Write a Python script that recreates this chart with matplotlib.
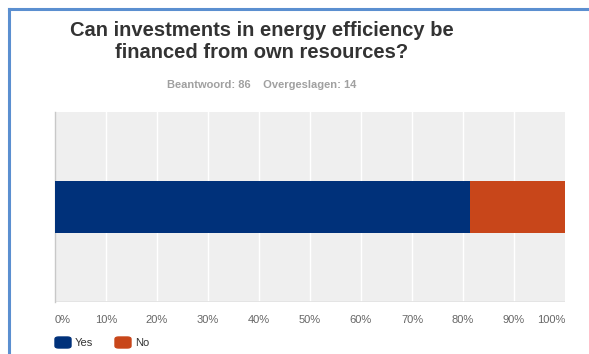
import matplotlib.pyplot as plt
from matplotlib.patches import FancyBboxPatch

categories = ["Yes", "No"]
shares = [81.4, 18.6]
colors = ["#00317a", "#c8461a"]
tick_values = [0, 10, 20, 30, 40, 50, 60, 70, 80, 90, 100]
tick_labels = [f"{t}%" for t in tick_values]

W, H = 589, 354
fig = plt.figure(figsize=(W / 100, H / 100), dpi=100)
fig.set_facecolor("white")

# blue frame on top and left
fig.add_artist(plt.Line2D([9 / W, 1], [1 - 9 / H, 1 - 9 / H], color="#5b8fd0", lw=2.2))
fig.add_artist(plt.Line2D([9 / W, 9 / W], [0, 1 - 9 / H], color="#5b8fd0", lw=2.2))

ax = fig.add_axes([55 / W, 1 - 302 / H, 510 / W, 190 / H])
ax.set_facecolor("#efefef")
ax.set_xlim(0, 100)
ax.set_ylim(-1.86, 1.86)

left = 0
for cat, val, col in zip(categories, shares, colors):
    ax.barh(0, val, left=left, height=1.0, color=col, edgecolor="none", zorder=3, label=cat)
    left += val

for t in tick_values[1:-1]:
    ax.axvline(t, color="white", lw=1, zorder=1)

for s in ["top", "right", "bottom"]:
    ax.spines[s].set_visible(False)
ax.spines["left"].set_color("#c8c8c8")
ax.spines["left"].set_linewidth(1)
ax.axhline(-1.86, color="#e2e2e2", lw=1.2, zorder=2)
ax.set_yticks([])
ax.set_xticks([])

# tick labels
for t, lab in zip(tick_values, tick_labels):
    ha = "left" if t == 0 else ("right" if t == 100 else "center")
    fig.text((55 + 5.1 * t) / W, 1 - 320 / H, lab, ha=ha, va="center", fontsize=8,
             color="#666666", family="Liberation Sans")

# legend
for i, (cat, col) in enumerate(zip(categories, colors)):
    x0 = 55 + i * 60
    fig.add_artist(FancyBboxPatch((x0 / W, 1 - 348 / H), 16 / W, 11 / H,
                                  boxstyle="round,pad=0,rounding_size=0.006",
                                  color=col, transform=fig.transFigure))
    fig.text((x0 + 20) / W, 1 - 342.5 / H, cat, ha="left", va="center",
             fontsize=8, color="#333333", family="Liberation Sans")

fig.text(262 / W, 1 - 30 / H, "Can investments in energy efficiency be",
         ha="center", va="center", fontsize=14.5, fontweight="bold",
         color="#333333", family="Liberation Sans")
fig.text(262 / W, 1 - 53 / H, "financed from own resources?",
         ha="center", va="center", fontsize=14.5, fontweight="bold",
         color="#333333", family="Liberation Sans")
fig.text(262 / W, 1 - 85 / H, "Beantwoord: 86    Overgeslagen: 14",
         ha="center", va="center", fontsize=8, fontweight="bold",
         color="#a0a0a0", family="Liberation Sans")

plt.savefig("out.png", dpi=100)
